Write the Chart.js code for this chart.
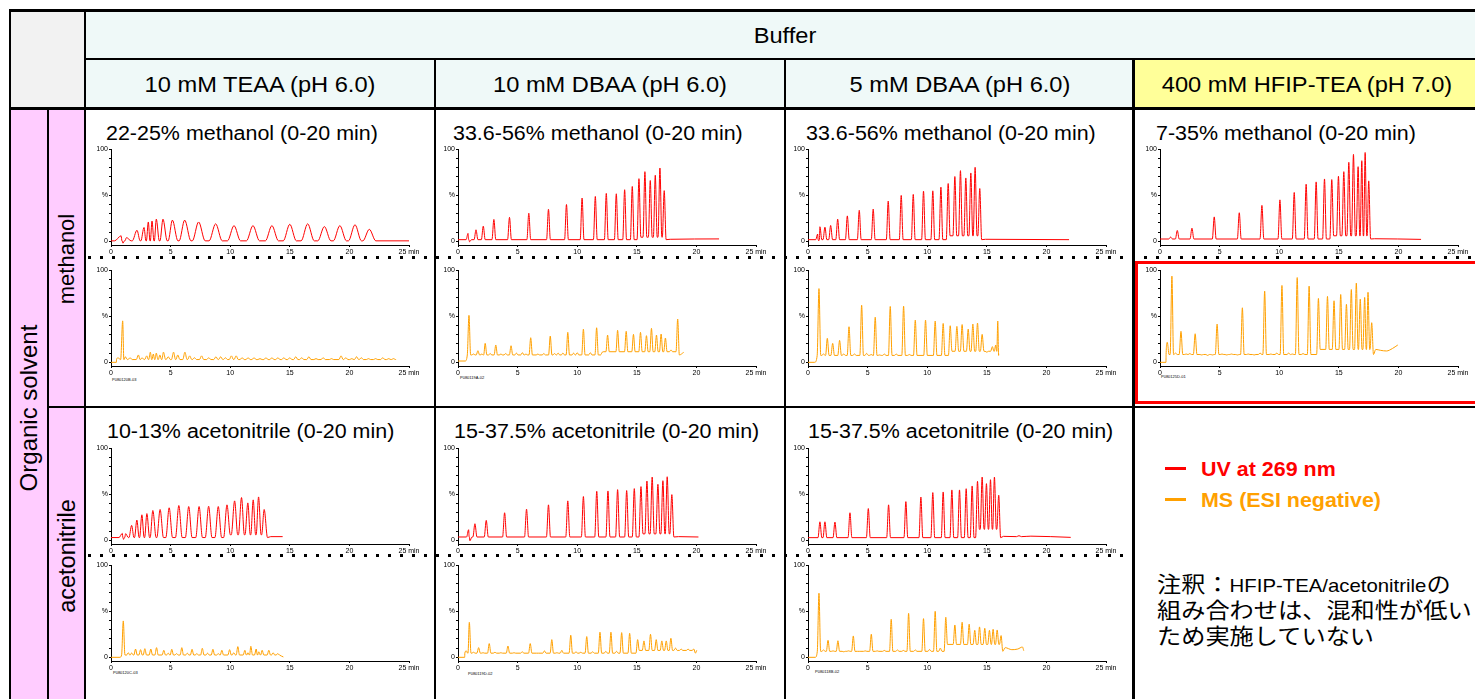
<!DOCTYPE html>
<html>
<head>
<meta charset="utf-8">
<script src="https://cdn.jsdelivr.net/npm/chart.js@4.4.0/dist/chart.umd.min.js"></script>
<style>
    body { margin: 0; background: #fff; }
    #page { position: relative; width: 1475px; height: 699px; overflow: hidden; font-family: Arial, "Liberation Sans", sans-serif; color: #000; }
    .bg, .ln { position: absolute; }
    .ln { background: #000; }
    .txt { position: absolute; white-space: nowrap; font-size: 21.5px; line-height: 26px; height: 26px; transform: scaleX(1.1); transform-origin: left center; }
    .ctr { width: 400px; text-align: center; transform-origin: center center; }
    .ttl { font-size: 19.5px; }
    .rot { position: absolute; white-space: nowrap; font-size: 22px; line-height: 26px; transform: translate(-50%, -50%) rotate(-90deg); }
    .dots { position: absolute; height: 3px; background-image: repeating-linear-gradient(90deg, #000 0 3px, transparent 3px 12px); }
    .pid { position: absolute; font-size: 4px; line-height: 5px; white-space: nowrap; }
    .jp { font-family: "Noto Sans CJK JP", sans-serif; font-size: 22px; }
    .jp .lat { font-family: Arial, "Liberation Sans", sans-serif; font-size: 18.5px; }
    canvas { position: absolute; }
</style>
</head>
<body>
<div id="page">
    <!-- cell backgrounds -->
    <div class="bg" style="left:11px;top:12px;width:73px;height:95px;background:#f2f2f2"></div>
    <div class="bg" style="left:86px;top:12px;width:1389px;height:46px;background:#eff9f8"></div>
    <div class="bg" style="left:86px;top:60px;width:1046px;height:47px;background:#eff9f8"></div>
    <div class="bg" style="left:1135px;top:60px;width:340px;height:47px;background:#ffff99"></div>
    <div class="bg" style="left:11px;top:110px;width:73px;height:589px;background:#ffccff"></div>

    <!-- grid lines -->
    <div class="ln" style="left:9px;top:9px;width:1466px;height:3px"></div>
    <div class="ln" style="left:85px;top:58px;width:1390px;height:2px"></div>
    <div class="ln" style="left:9px;top:107px;width:1466px;height:3px"></div>
    <div class="ln" style="left:48px;top:406px;width:1427px;height:2px"></div>
    <div class="ln" style="left:9px;top:9px;width:2px;height:690px"></div>
    <div class="ln" style="left:47px;top:108px;width:2px;height:591px"></div>
    <div class="ln" style="left:84px;top:9px;width:2px;height:690px"></div>
    <div class="ln" style="left:434px;top:58px;width:2px;height:641px"></div>
    <div class="ln" style="left:784px;top:58px;width:2px;height:641px"></div>
    <div class="ln" style="left:1132px;top:58px;width:3px;height:641px"></div>

    <!-- headers -->
    <div class="txt ctr" style="left:585px;top:23px">Buffer</div>
    <div class="txt ctr" style="left:60px;top:72px">10 mM TEAA (pH 6.0)</div>
    <div class="txt ctr" style="left:410px;top:72px">10 mM DBAA (pH 6.0)</div>
    <div class="txt ctr" style="left:760px;top:72px">5 mM DBAA (pH 6.0)</div>
    <div class="txt ctr" style="left:1107px;top:72px">400 mM HFIP-TEA (pH 7.0)</div>
    <div class="rot" style="left:29px;top:408px;font-size:24px">Organic solvent</div>
    <div class="rot" style="left:67px;top:259px">methanol</div>
    <div class="rot" style="left:67px;top:556px;font-size:23.5px">acetonitrile</div>

    <!-- panel titles -->
    <div class="txt ttl" style="left:106px;top:120px">22-25% methanol (0-20 min)</div>
    <div class="txt ttl" style="left:453px;top:120px">33.6-56% methanol (0-20 min)</div>
    <div class="txt ttl" style="left:806px;top:120px">33.6-56% methanol (0-20 min)</div>
    <div class="txt ttl" style="left:1156px;top:120px">7-35% methanol (0-20 min)</div>
    <div class="txt ttl" style="left:107px;top:418px">10-13% acetonitrile (0-20 min)</div>
    <div class="txt ttl" style="left:454px;top:418px">15-37.5% acetonitrile (0-20 min)</div>
    <div class="txt ttl" style="left:808px;top:418px">15-37.5% acetonitrile (0-20 min)</div>

    <!-- separators and highlight -->
    <div class="dots" style="left:88px;top:256px;width:1387px"></div>
    <div class="dots" style="left:88px;top:554px;width:1045px"></div>
    <div class="bg" style="left:1135px;top:261px;width:345px;height:143px;border:3.5px solid #ff0000;box-sizing:border-box"></div>

    <!-- run ids -->
    <div class="pid" style="left:112px;top:377px">P080120B-03</div>
    <div class="pid" style="left:460px;top:375px">P080119A-02</div>
    <div class="pid" style="left:1161px;top:374px">P080125D-01</div>
    <div class="pid" style="left:113px;top:670px">P080120C-03</div>
    <div class="pid" style="left:468px;top:671px">P080119D-02</div>
    <div class="pid" style="left:815px;top:669px">P080118B-02</div>

    <!-- legend and note -->
    <div class="bg" style="left:1165px;top:467px;width:21px;height:3px;background:#ff0000"></div>
    <div class="txt ttl" style="left:1201px;top:456px;font-weight:bold;color:#ff0000">UV at 269 nm</div>
    <div class="bg" style="left:1165px;top:498px;width:21px;height:3px;background:#ffa000"></div>
    <div class="txt ttl" style="left:1201px;top:487px;font-weight:bold;color:#ffa000">MS (ESI negative)</div>
    <div class="txt jp" style="left:1157px;top:569px">注釈：<span class="lat">HFIP-TEA/acetonitrile</span>の</div>
    <div class="txt jp" style="left:1157px;top:595px">組み合わせは、混和性が低い</div>
    <div class="txt jp" style="left:1157px;top:621px">ため実施していない</div>
</div>

<script>
// Axis ticks
const minuteTicks = [0, 5, 10, 15, 20, 25];
const percentTicks = [0, 10, 20, 30, 40, 50, 60, 70, 80, 90, 100];

// Peak apex times (min) and heights (%), plus start/end points of each trace
// --- methanol, UV
const teaaMeohUvT = [0.85, 1.0, 1.3, 2.18, 2.77, 3.13, 3.44, 3.8, 4.36, 5.15, 6.18, 7.35, 8.78, 10.32, 11.91, 13.5, 15.0, 16.5, 17.9, 19.2, 20.47, 21.67];
const teaaMeohUvH = [6, -2, 4, 12, 15, 21, 22, 24, 24, 23, 23, 21, 19, 17, 17, 17, 18.5, 19, 16, 17, 18, 13];
const teaaMeohUvEdge = [[0, 0.5], [25, 0.5]];

const dbaa10MeohUvT = [0.84, 0.97, 1.51, 2.12, 3.01, 4.32, 5.94, 7.59, 9.1, 10.41, 11.52, 12.44, 13.28, 13.98, 14.62, 15.18, 15.68, 16.13, 16.55, 16.94, 17.3];
const dbaa10MeohUvH = [8.6, -0.5, 12.5, 16.5, 23.7, 26, 30.5, 34.8, 40, 47, 48.7, 52, 51.6, 56, 59.5, 68, 75.6, 66, 71.7, 79.6, 55];
const dbaa10MeohUvEdge = [[0, 1.8], [17.8, 2.2], [21.9, 2.6]];

const dbaa5MeohUvT = [0.81, 0.9, 1.0, 1.42, 1.9, 2.49, 3.3, 4.3, 5.47, 6.73, 7.82, 8.83, 9.69, 10.47, 11.15, 11.76, 12.32, 12.79, 13.24, 13.66, 14.02, 14.41];
const dbaa5MeohUvH = [7.9, 0.5, 15.8, 15.4, 17.2, 24, 27.6, 33.7, 35, 43.7, 49.8, 50.9, 54.5, 54.8, 58.8, 62.7, 70.3, 76.7, 68.8, 74.2, 80.3, 57.3];
const dbaa5MeohUvEdge = [[0, 1.8], [14.9, 2.2], [21.9, 1.8]];

const hfipMeohUvT = [0.89, 1.45, 2.68, 4.55, 6.65, 8.55, 10.06, 11.26, 12.26, 13.1, 13.8, 14.41, 14.97, 15.42, 15.84, 16.23, 16.62, 16.93, 17.21, 17.51];
const hfipMeohUvH = [4.6, 11.8, 14.3, 26.5, 31, 39, 45, 53, 62, 64.5, 67.7, 67, 70.6, 75.6, 85.7, 94.3, 81, 87.5, 96.4, 65.6];
const hfipMeohUvEdge = [[0, 2.5], [18.0, 2.8], [21.9, 2.1]];

// --- methanol, MS
const teaaMeohMsT = [0.6, 0.98, 1.2, 1.6, 2.3, 2.6, 3.0, 3.3, 3.55, 3.8, 4.1, 4.4, 4.8, 5.25, 5.6, 6.2, 6.6, 7.0, 7.6, 8.2, 8.8, 9.2, 9.6, 10.1, 10.5, 11.0, 11.5, 12.0, 12.5, 13.0, 13.5, 14.0, 14.5, 15.0, 15.5, 16.0, 16.6, 17.2, 17.8, 18.5, 19.3, 19.7, 20.2, 20.6, 21.0, 21.6, 22.2, 22.8, 23.3, 23.7];
const teaaMeohMsH = [5, 45, 6, 5, 8, 5, 7, 11, 9, 10, 8, 11, 6, 11, 8, 11, 7, 5, 7, 5, 6, 6, 5, 7, 7, 5, 5, 5, 4, 5, 5, 5, 5, 5, 6, 5, 6, 4, 5, 4, 7, 5, 4, 6, 5, 4, 4, 5, 4, 4];
const teaaMeohMsEdge = [[0, 0], [0.45, 0], [23.9, 3.5]];

const dbaa10MeohMsT = [0.92, 1.3, 1.67, 2.0, 2.28, 2.7, 3.17, 3.6, 4.0, 4.45, 4.9, 5.4, 5.7, 6.1, 6.7, 7.2, 7.74, 8.1, 8.4, 8.8, 9.21, 9.7, 10.0, 10.52, 11.1, 11.63, 12.1, 12.55, 13.39, 14.11, 14.72, 15.31, 15.81, 16.23, 16.65, 17.04, 17.4, 17.87, 18.43];
const dbaa10MeohMsH = [51, 9, 12.6, 9, 20.6, 9.5, 18.8, 9, 9.5, 18, 10, 10.5, 9, 26.7, 9, 9.5, 28.5, 9.5, 10, 10, 32.5, 10, 10.5, 36, 10.5, 37.5, 11, 29.6, 34.7, 33.6, 30.3, 32.5, 28.9, 36.8, 29.6, 30.7, 26.4, 13.4, 47];
const dbaa10MeohMsEdge = [[0, 1.4], [0.6, 1.4], [18.93, 10.8]];

const dbaa5MeohMsT = [0.92, 1.3, 1.62, 2.07, 2.65, 3.0, 3.44, 3.9, 4.5, 4.92, 5.3, 5.64, 6.0, 6.4, 6.9, 7.4, 8.02, 8.5, 9.0, 9.86, 10.67, 11.34, 11.93, 12.49, 12.93, 13.44, 13.83, 14.22, 14.61, 15.0, 15.47, 15.75, 15.92];
const dbaa5MeohMsH = [80, 9, 26, 20.6, 23.8, 9, 38.6, 9, 62, 9.7, 8.5, 49, 8, 9, 60.6, 9, 61, 8.5, 45.8, 45.8, 44.8, 42.2, 39.7, 39, 41, 36, 41.5, 42.6, 30.3, 11, 17, 18.8, 44.8];
const dbaa5MeohMsEdge = [[0, 0], [0.56, 0], [16.0, 9.4]];

const hfipMeohMsT = [0.61, 1.0, 1.3, 1.76, 2.2, 2.5, 2.95, 3.5, 4.0, 4.4, 4.79, 5.2, 5.6, 6.0, 6.5, 6.91, 7.4, 7.9, 8.4, 8.78, 9.3, 9.8, 10.23, 10.8, 11.1, 11.51, 12.0, 12.51, 13.29, 14.05, 14.6, 15.16, 15.64, 16.05, 16.47, 16.8, 17.17, 17.45, 17.76];
const hfipMeohMsH = [21.7, 93.5, 10, 33.6, 9, 9.5, 31, 8, 7.5, 8, 41.5, 9, 8, 9, 8, 59.2, 9, 8, 10, 77.3, 9, 10, 83.4, 10, 9, 92, 9.5, 82.7, 69.3, 71.5, 66.8, 73.6, 63, 79, 86, 68.6, 70.4, 76, 43];
const hfipMeohMsEdge = [[0, 0], [0.5, 0], [18.1, 14], [18.5, 13], [19.0, 12.3], [19.5, 15], [19.95, 18.8]];

// --- acetonitrile, UV
const teaaAcnUvT = [0.95, 1.05, 1.23, 1.73, 2.17, 2.59, 3.01, 3.51, 4.12, 4.88, 5.69, 6.52, 7.39, 8.19, 9.0, 9.73, 10.37, 10.95, 11.48, 11.93, 12.38, 12.85];
const teaaAcnUvH = [7.5, 1, 7.2, 16.2, 22, 27.7, 29, 32.4, 33.5, 35.3, 37.8, 36.7, 36.7, 37, 36.7, 38.5, 42.8, 46.4, 40.6, 43.9, 47.1, 33.5];
const teaaAcnUvEdge = [[0, 3], [13.4, 4], [14.4, 4]];

const dbaa10AcnUvT = [0.89, 1.0, 1.42, 2.37, 3.91, 5.75, 7.59, 9.21, 10.52, 11.64, 12.58, 13.39, 14.15, 14.79, 15.35, 15.85, 16.29, 16.77, 17.19, 17.55, 17.94];
const dbaa10AcnUvH = [11.5, -0.5, 18, 21.6, 29.9, 33.8, 38.5, 42.8, 47.5, 53.2, 53.6, 55, 54, 56.1, 58.3, 64.4, 68.7, 60.8, 64.7, 69, 49.6];
const dbaa10AcnUvEdge = [[0, 3.6], [18.5, 4], [20.17, 3.6]];

const dbaa5AcnUvT = [1.0, 1.42, 2.26, 3.52, 5.06, 6.76, 8.21, 9.47, 10.47, 11.34, 12.07, 12.71, 13.27, 13.77, 14.22, 14.61, 14.97, 15.31, 15.64, 16.0];
const dbaa5AcnUvH = [20.1, 20.1, 19.8, 29.9, 34.5, 38.5, 42, 47, 51.8, 52.5, 54.7, 54.7, 56, 59, 64, 68.7, 61.5, 65.8, 68.7, 49];
const dbaa5AcnUvEdge = [[0, 2.9], [16.4, 4.3], [17.5, 4], [17.7, 5], [17.9, 4], [18.7, 4.5], [22.04, 3.2]];

// --- acetonitrile, MS
const teaaAcnMsT = [1.03, 1.45, 1.73, 2.06, 2.48, 2.84, 3.34, 3.82, 4.43, 4.8, 5.1, 5.5, 5.94, 6.4, 6.8, 7.2, 7.66, 8.1, 8.55, 9.0, 9.3, 9.95, 10.3, 10.64, 11.23, 11.5, 11.73, 12.18, 12.4, 12.68, 13.24, 13.6, 13.99];
const teaaAcnMsH = [39.5, 5, 4.7, 9, 8.3, 9.4, 9, 10.5, 7.6, 4.5, 8.7, 4, 10.5, 4.5, 8.7, 4, 9.8, 4.5, 8.7, 4, 7.6, 8.3, 5, 11.6, 7.6, 5, 12, 9, 6, 7.6, 7.6, 5, 4];
const teaaAcnMsEdge = [[0, 0], [0.75, 0], [14.46, 0.4]];

const dbaa10AcnMsT = [0.7, 0.95, 1.3, 1.73, 2.1, 2.62, 3.1, 3.6, 4.19, 4.7, 5.39, 6.06, 6.6, 7.25, 7.87, 8.3, 8.71, 9.46, 9.9, 10.3, 10.8, 11.3, 11.91, 12.4, 12.83, 13.3, 13.73, 14.4, 15.07, 15.6, 16.15, 16.63, 17.1, 17.47, 17.86, 18.25, 18.72, 19.3, 19.78];
const dbaa10AcnMsH = [7, 38, 5.5, 10.5, 5, 14.9, 5.5, 5, 12.3, 5, 6, 14.9, 4.5, 7, 19.2, 5, 7.6, 24, 6, 5.5, 22.5, 6, 27.2, 6.5, 27.2, 6.5, 26.8, 26, 19.2, 17.8, 25, 19.2, 17.8, 17.8, 20.7, 10, 9, 9, 9];
const dbaa10AcnMsEdge = [[0, 0], [0.56, 0], [20.03, 7.6]];

const dbaa5AcnMsT = [0.92, 1.3, 1.68, 2.1, 2.51, 3.0, 3.4, 3.8, 4.3, 4.8, 5.31, 5.8, 6.4, 6.98, 7.5, 8.0, 8.44, 9.0, 9.69, 10.2, 10.67, 11.1, 11.56, 12.32, 12.93, 13.52, 13.99, 14.39, 14.83, 15.22, 15.53, 15.87, 16.2];
const dbaa5AcnMsH = [69.6, 8, 18.5, 7, 18, 6, 7, 23.2, 6.5, 7, 25, 7, 7.5, 41.3, 8, 7.5, 47.8, 8, 42, 8.5, 50, 10, 43.5, 35.1, 38, 35.9, 29.3, 33, 31.5, 29.3, 30.4, 29.7, 23.6];
const dbaa5AcnMsEdge = [[0, 0], [0.61, 0], [16.54, 10.5], [17.1, 8.3], [17.6, 9], [17.99, 11.2], [18.1, 7.2]];

// Peak half-width (min), baseline (%), and raised valley level after a time
// [halfWidth, baseline, lateFrom, lateLow]
const peakShape = {
    teaaMeohUv: [0.55, 0.5, null, null],
    dbaa10MeohUv: [0.16, 1.8, 15.4, 4.5],
    dbaa5MeohUv: [0.16, 1.8, 12.0, 6],
    hfipMeohUv: [0.16, 2.5, 14.6, 6],
    teaaMeohMs: [0.18, 3, null, null],
    dbaa10MeohMs: [0.14, 8, 12.1, 11.5],
    dbaa5MeohMs: [0.15, 7.5, 12.2, 12],
    hfipMeohMs: [0.15, 8.5, 12.9, 14],
    teaaAcnUv: [0.28, 3, 10.0, 6],
    dbaa10AcnUv: [0.17, 3.6, 15.1, 7],
    dbaa5AcnUv: [0.16, 2.9, 14.0, 12],
    teaaAcnMs: [0.14, 2.5, null, null],
    dbaa10AcnMs: [0.14, 4.5, 15.0, 7.5],
    dbaa5AcnMs: [0.14, 6.5, 11.9, 14]
};

const UV_COLOR = '#ff0000';
const MS_COLOR = '#ffa000';

// Canvas placement: column left edges, row top edges
const colLeft = [97, 444, 794, 1146];
const rowTop = { meohUv: 144, meohMs: 265, acnUv: 443, acnMs: 560 };

const panels = [
    { key: 'teaaMeohUv', t: teaaMeohUvT, h: teaaMeohUvH, edge: teaaMeohUvEdge, col: 0, row: 'meohUv', color: UV_COLOR },
    { key: 'dbaa10MeohUv', t: dbaa10MeohUvT, h: dbaa10MeohUvH, edge: dbaa10MeohUvEdge, col: 1, row: 'meohUv', color: UV_COLOR },
    { key: 'dbaa5MeohUv', t: dbaa5MeohUvT, h: dbaa5MeohUvH, edge: dbaa5MeohUvEdge, col: 2, row: 'meohUv', color: UV_COLOR },
    { key: 'hfipMeohUv', t: hfipMeohUvT, h: hfipMeohUvH, edge: hfipMeohUvEdge, col: 3, row: 'meohUv', color: UV_COLOR },
    { key: 'teaaMeohMs', t: teaaMeohMsT, h: teaaMeohMsH, edge: teaaMeohMsEdge, col: 0, row: 'meohMs', color: MS_COLOR },
    { key: 'dbaa10MeohMs', t: dbaa10MeohMsT, h: dbaa10MeohMsH, edge: dbaa10MeohMsEdge, col: 1, row: 'meohMs', color: MS_COLOR },
    { key: 'dbaa5MeohMs', t: dbaa5MeohMsT, h: dbaa5MeohMsH, edge: dbaa5MeohMsEdge, col: 2, row: 'meohMs', color: MS_COLOR },
    { key: 'hfipMeohMs', t: hfipMeohMsT, h: hfipMeohMsH, edge: hfipMeohMsEdge, col: 3, row: 'meohMs', color: MS_COLOR },
    { key: 'teaaAcnUv', t: teaaAcnUvT, h: teaaAcnUvH, edge: teaaAcnUvEdge, col: 0, row: 'acnUv', color: UV_COLOR },
    { key: 'dbaa10AcnUv', t: dbaa10AcnUvT, h: dbaa10AcnUvH, edge: dbaa10AcnUvEdge, col: 1, row: 'acnUv', color: UV_COLOR },
    { key: 'dbaa5AcnUv', t: dbaa5AcnUvT, h: dbaa5AcnUvH, edge: dbaa5AcnUvEdge, col: 2, row: 'acnUv', color: UV_COLOR },
    { key: 'teaaAcnMs', t: teaaAcnMsT, h: teaaAcnMsH, edge: teaaAcnMsEdge, col: 0, row: 'acnMs', color: MS_COLOR },
    { key: 'dbaa10AcnMs', t: dbaa10AcnMsT, h: dbaa10AcnMsH, edge: dbaa10AcnMsEdge, col: 1, row: 'acnMs', color: MS_COLOR },
    { key: 'dbaa5AcnMs', t: dbaa5AcnMsT, h: dbaa5AcnMsH, edge: dbaa5AcnMsEdge, col: 2, row: 'acnMs', color: MS_COLOR }
];

// turn apex lists into a point table: baseline before/after each apex
function buildPoints(t, h, edge, shape) {
    const [w, base, lateFrom, lateLow] = shape;
    const head = edge.filter(p => p[0] < t[0]);
    const tail = edge.filter(p => p[0] > t[t.length - 1]);
    const lowAt = x => (lateFrom !== null && x >= lateFrom) ? lateLow : base;
    const pts = head.map(p => ({ x: p[0], y: p[1] }));
    const n = t.length;
    for (let i = 0; i < n; i++) {
        const gl = i === 0 ? 2 * (t[0] - head[head.length - 1][0]) : t[i] - t[i - 1];
        const gr = i === n - 1 ? 2 * (tail[0][0] - t[n - 1]) : t[i + 1] - t[i];
        const wl = Math.min(w, gl * 0.45);
        const wr = Math.min(w, gr * 0.45);
        pts.push({ x: t[i] - wl, y: i === 0 ? base : lowAt(t[i] - gl / 2) });
        pts.push({ x: t[i], y: h[i] });
        pts.push({ x: t[i] + wr, y: i === n - 1 ? base : lowAt(t[i] + gr / 2) });
    }
    tail.forEach(p => pts.push({ x: p[0], y: p[1] }));
    return pts;
}

const tickFont = { family: 'Arial, "Liberation Sans", sans-serif', size: 7 };

function yLabel(v) {
    if (v === 100) return '100';
    if (v === 50) return '%';
    if (v === 0) return '0';
    return '';
}

function makeChart(canvas, points, color) {
    return new Chart(canvas, {
        type: 'line',
        data: {
            datasets: [{
                data: points, borderColor: color, borderWidth: 1, pointRadius: 0,
                cubicInterpolationMode: 'monotone', fill: false
            }]
        },
        options: {
            responsive: false, animation: false, events: [],
            layout: { padding: { top: 5, right: 16, left: 0, bottom: 0 } },
            plugins: { legend: { display: false }, tooltip: { enabled: false } },
            scales: {
                x: {
                    type: 'linear', min: 0, max: 25,
                    afterBuildTicks: s => { s.ticks = minuteTicks.map(v => ({ value: v })); },
                    afterFit: s => { s.height = 14; },
                    ticks: {
                        font: tickFont, color: '#000', padding: 1, maxRotation: 0, autoSkip: false,
                        callback: v => v === 25 ? '25 min' : String(v)
                    },
                    grid: { drawOnChartArea: false, tickLength: 2, color: '#000' },
                    border: { color: '#000', width: 1 }
                },
                y: {
                    type: 'linear', min: -4, max: 100,
                    afterBuildTicks: s => { s.ticks = percentTicks.map(v => ({ value: v })); },
                    afterFit: s => { s.width = 14; },
                    ticks: {
                        font: tickFont, color: '#000', padding: 1, autoSkip: false,
                        callback: v => yLabel(Number(v))
                    },
                    grid: { drawOnChartArea: false, tickLength: 2, color: '#000' },
                    border: { color: '#000', width: 1 }
                }
            }
        }
    });
}

const page = document.getElementById('page');
panels.forEach(p => {
    const cv = document.createElement('canvas');
    cv.width = 328;
    cv.height = 115;
    cv.style.left = colLeft[p.col] + 'px';
    cv.style.top = rowTop[p.row] + 'px';
    page.appendChild(cv);
    makeChart(cv, buildPoints(p.t, p.h, p.edge, peakShape[p.key]), p.color);
});
</script>
</body>
</html>
